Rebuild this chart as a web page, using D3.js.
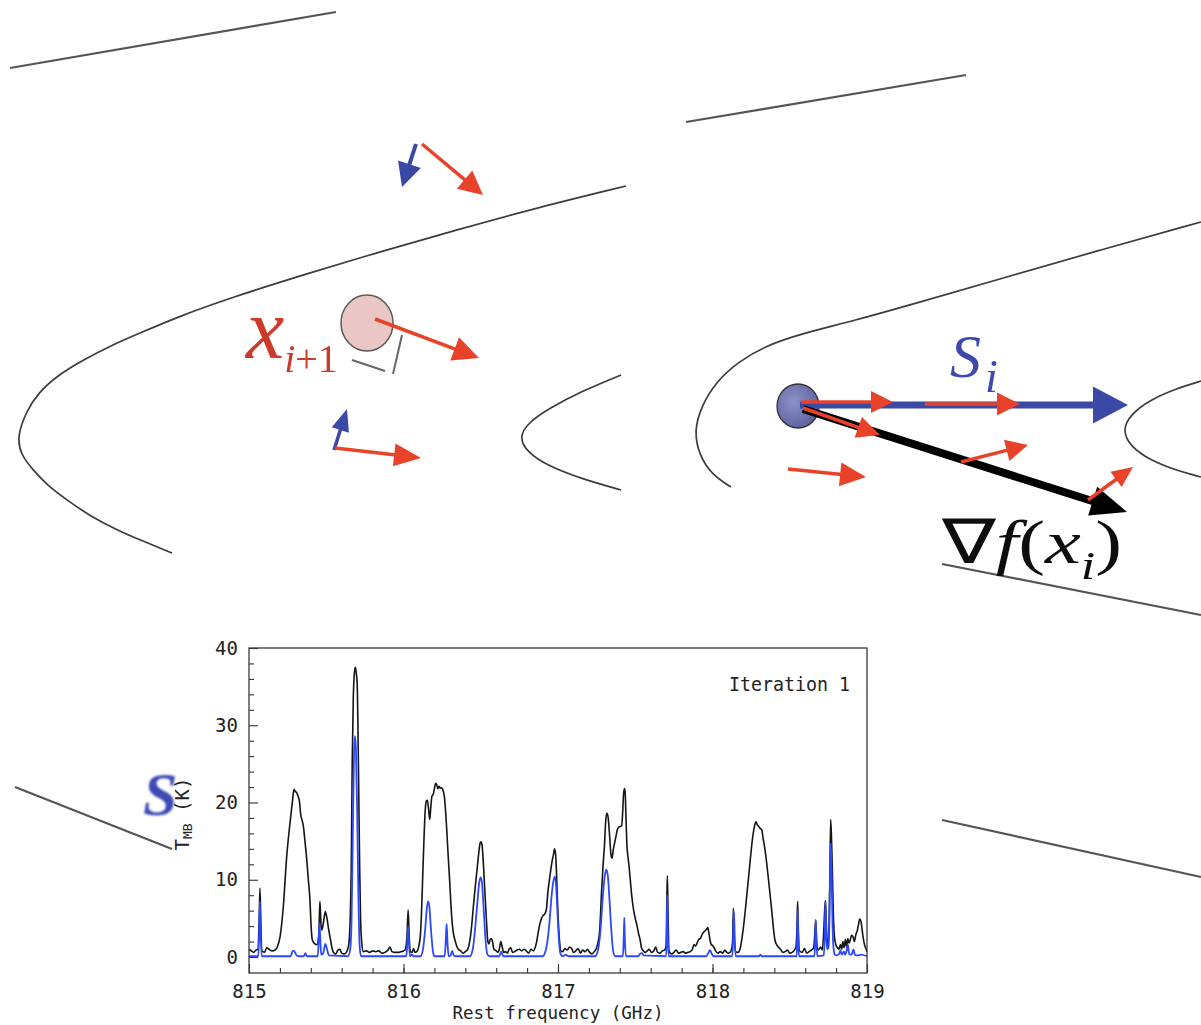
<!DOCTYPE html>
<html>
<head>
<meta charset="utf-8">
<script src="https://cdn.jsdelivr.net/npm/d3@7"></script>
<style>
  html, body { margin: 0; padding: 0; background: #fff; }
  svg { display: block; }
</style>
</head>
<body>
<svg id="fig" width="1201" height="1025"></svg>
<script>
// ---- spectrum data: observed (black) and model (blue), T_MB in K vs rest frequency in GHz ----
const blackFreq = [815.000,815.015,815.030,815.045,815.058,815.066,815.071,815.076,815.083,815.100,815.115,815.130,815.150,815.170,815.185,815.201,815.222,815.244,815.265,815.282,815.291,815.300,815.308,815.318,815.326,815.335,815.345,815.352,815.362,815.373,815.384,815.395,815.402,815.410,815.427,815.440,815.452,815.459,815.466,815.472,815.482,815.494,815.503,815.516,815.528,815.537,815.550,815.562,815.575,815.588,815.600,815.615,815.630,815.645,815.655,815.662,815.668,815.675,815.681,815.688,815.694,815.700,815.705,815.710,815.716,815.722,815.730,815.740,815.760,815.780,815.800,815.820,815.840,815.860,815.880,815.900,815.912,815.925,815.945,815.970,815.990,816.010,816.022,816.030,816.037,816.045,816.055,816.065,816.075,816.090,816.100,816.110,816.118,816.126,816.133,816.140,816.148,816.155,816.162,816.170,816.177,816.184,816.193,816.200,816.208,816.215,816.222,816.230,816.237,816.246,816.257,816.265,816.272,816.279,816.288,816.297,816.305,816.312,816.322,816.333,816.343,816.355,816.370,816.385,816.400,816.415,816.430,816.442,816.452,816.465,816.478,816.488,816.495,816.502,816.508,816.515,816.521,816.530,816.538,816.546,816.553,816.560,816.568,816.576,816.585,816.600,816.612,816.622,816.630,816.638,816.648,816.660,816.672,816.686,816.695,816.705,816.720,816.735,816.750,816.765,816.780,816.795,816.810,816.825,816.840,816.852,816.862,816.872,816.883,816.893,816.905,816.915,816.925,816.935,816.948,816.960,816.970,816.978,816.985,816.991,816.998,817.004,817.011,817.018,817.030,817.045,817.060,817.075,817.088,817.100,817.115,817.130,817.145,817.160,817.175,817.190,817.205,817.220,817.235,817.250,817.260,817.270,817.282,817.292,817.300,817.307,817.314,817.320,817.327,817.336,817.343,817.350,817.358,817.367,817.375,817.383,817.392,817.402,817.412,817.418,817.424,817.430,817.435,817.440,817.446,817.454,817.461,817.470,817.478,817.490,817.500,817.512,817.522,817.532,817.540,817.552,817.565,817.578,817.590,817.605,817.620,817.632,817.645,817.660,817.675,817.690,817.700,817.705,817.708,817.712,817.718,817.735,817.750,817.765,817.780,817.795,817.810,817.825,817.840,817.855,817.870,817.880,817.890,817.902,817.912,817.922,817.932,817.942,817.952,817.962,817.970,817.976,817.984,817.992,818.000,818.010,818.020,818.035,818.050,818.065,818.080,818.092,818.105,818.120,818.130,818.135,818.140,818.150,818.165,818.178,818.189,818.200,818.210,818.221,818.232,818.243,818.253,818.265,818.275,818.281,818.290,818.300,818.310,818.318,818.328,818.339,818.350,818.361,818.372,818.382,818.393,818.404,818.415,818.426,818.440,818.455,818.470,818.485,818.500,818.515,818.530,818.540,818.547,818.551,818.555,818.562,818.580,818.595,818.610,818.625,818.640,818.655,818.662,818.668,818.674,818.685,818.700,818.710,818.718,818.726,818.731,818.736,818.742,818.748,818.754,818.760,818.765,818.770,818.775,818.782,818.790,818.800,818.810,818.818,818.828,818.836,818.844,818.852,818.860,818.868,818.876,818.884,818.893,818.900,818.910,818.918,818.928,818.938,818.946,818.952,818.960,818.968,818.976,818.985,818.995,819.000];
const blackTmb = [1.0,0.8,0.6,0.9,1.0,5.0,8.9,5.0,0.8,0.6,1.2,1.0,0.8,0.9,1.4,2.6,6.5,13.0,17.3,20.3,21.7,21.4,21.3,20.8,20.2,18.4,17.6,16.9,15.0,12.8,10.0,7.2,4.0,2.2,1.7,1.6,3.0,7.2,4.2,3.5,4.5,5.9,5.2,3.5,2.2,1.2,0.5,0.4,0.9,1.0,0.5,0.4,0.6,1.5,5.0,12.0,25.0,33.5,36.5,37.5,36.8,35.5,30.0,22.0,12.0,5.0,1.8,0.7,0.8,0.6,0.8,0.7,0.8,0.5,0.6,0.9,1.3,0.7,0.6,0.6,0.7,0.9,2.5,6.1,2.5,0.7,0.6,1.1,0.6,0.8,1.5,3.0,6.5,11.5,15.5,18.8,20.2,20.3,19.2,17.8,19.5,20.8,21.1,21.8,22.5,22.3,21.8,22.1,21.9,21.9,21.5,20.7,19.0,16.8,13.5,10.5,7.5,5.2,3.2,2.2,1.5,1.0,0.8,0.5,0.7,1.0,2.2,4.2,6.5,9.2,11.7,13.6,14.7,14.9,14.5,12.8,10.6,7.2,4.3,2.0,1.7,2.2,2.4,2.0,1.0,0.8,0.6,1.2,2.0,1.4,0.6,0.7,0.5,1.1,1.2,0.6,0.7,0.9,1.0,0.8,1.0,0.8,0.5,1.0,0.8,1.2,2.0,3.2,4.3,5.0,5.4,5.6,6.2,8.5,10.5,12.2,13.2,14.0,13.2,10.5,6.5,3.8,1.8,0.8,0.7,1.1,0.9,1.3,1.1,0.6,0.8,1.1,0.5,0.9,0.7,1.0,0.6,0.4,0.7,1.2,2.0,3.5,8.5,12.0,14.2,17.0,18.6,18.5,17.6,15.1,13.2,12.8,13.9,14.8,15.6,16.4,16.8,16.9,17.0,18.5,21.0,21.8,21.2,18.0,14.5,12.8,11.5,9.5,7.8,6.0,5.0,4.0,3.0,2.2,1.2,0.8,0.6,0.8,1.0,0.6,0.8,1.3,0.6,0.5,0.8,0.9,1.5,8.0,10.5,6.0,0.8,0.4,0.6,0.9,0.5,0.6,0.7,0.5,0.6,0.7,1.0,1.6,1.4,1.9,2.3,2.4,2.9,3.2,3.4,3.6,3.8,3.2,2.2,1.6,1.5,1.2,0.8,0.5,0.7,0.5,0.9,0.6,0.5,0.8,2.0,6.3,2.5,0.7,0.6,1.0,2.2,3.8,5.6,7.8,10.0,12.3,14.3,16.2,17.2,17.5,17.1,16.9,16.6,16.5,15.3,14.0,12.3,10.3,8.2,6.3,4.0,2.2,1.6,1.3,1.0,0.6,0.7,0.9,0.5,0.6,0.9,1.3,4.0,7.2,4.0,0.8,0.6,1.1,0.5,0.7,0.9,1.2,3.0,4.8,2.0,0.9,1.3,0.9,2.5,6.0,7.3,4.5,2.0,1.3,3.5,11.0,17.8,15.5,12.0,5.7,2.5,1.5,1.2,1.0,1.6,1.0,2.0,1.2,2.3,1.3,2.4,1.8,2.3,2.8,2.6,2.0,2.9,3.5,4.3,4.9,4.7,3.6,2.4,1.5,1.0,0.7];

const blueFreq = [815.000,815.060,815.066,815.071,815.076,815.082,815.270,815.283,815.292,815.305,815.320,815.355,815.365,815.375,815.445,815.452,815.456,815.461,815.467,815.480,815.494,815.505,815.518,815.640,815.655,815.664,815.672,815.680,815.686,815.692,815.700,815.708,815.716,815.725,816.018,816.024,816.030,816.036,816.042,816.055,816.065,816.110,816.125,816.140,816.152,816.160,816.168,816.178,816.190,816.200,816.266,816.273,816.279,816.285,816.292,816.305,816.315,816.325,816.340,816.430,816.450,816.465,816.480,816.490,816.499,816.508,816.518,816.530,816.542,816.555,816.620,816.632,816.645,816.900,816.915,816.930,816.945,816.958,816.970,816.980,816.988,816.996,817.005,817.015,817.030,817.050,817.065,817.240,817.260,817.275,817.290,817.302,817.312,817.322,817.333,817.345,817.357,817.370,817.420,817.425,817.429,817.433,817.440,817.520,817.530,817.545,817.555,817.700,817.704,817.707,817.711,817.716,817.960,817.975,817.984,817.993,818.005,818.128,818.134,818.139,818.144,818.150,818.300,818.310,818.320,818.545,818.548,818.551,818.555,818.560,818.660,818.664,818.668,818.673,818.678,818.720,818.726,818.731,818.736,818.742,818.750,818.757,818.762,818.766,818.770,818.776,818.782,818.790,818.800,818.820,818.828,818.836,818.850,818.858,818.868,818.876,818.884,818.900,818.912,818.922,818.940,818.960,819.000];
const blueTmb = [0.1,0.1,3.0,7.2,3.0,0.1,0.1,0.8,0.8,0.3,0.1,0.1,0.5,0.1,0.1,2.5,4.4,2.5,0.3,0.5,1.7,1.0,0.2,0.1,1.0,5.0,16.0,26.5,28.6,27.0,19.0,8.0,1.5,0.1,0.1,1.5,4.0,1.5,0.1,0.3,0.1,0.1,0.9,3.5,6.5,7.2,6.4,3.5,0.8,0.1,0.1,1.8,4.3,1.8,0.1,0.2,0.8,0.2,0.1,0.1,1.2,4.0,7.5,9.6,10.3,9.6,6.5,2.5,0.4,0.1,0.1,0.7,0.1,0.1,0.5,1.8,4.5,7.8,9.8,10.4,9.2,6.0,2.5,0.5,0.1,0.3,0.1,0.1,1.0,3.5,7.8,10.4,11.3,10.6,7.5,3.5,0.8,0.1,0.1,2.2,5.1,2.2,0.1,0.1,0.4,0.5,0.2,0.1,3.0,8.0,3.0,0.1,0.1,0.6,0.9,0.5,0.1,0.1,2.5,5.9,2.5,0.1,0.1,0.3,0.1,0.1,2.0,6.1,2.0,0.1,0.1,2.0,4.8,2.0,0.1,0.2,2.5,7.2,3.0,1.0,1.2,5.0,12.0,14.7,12.0,5.0,1.5,0.4,0.2,0.4,0.9,0.3,0.7,0.3,0.8,1.6,0.4,0.3,1.0,0.3,0.2,0.3,0.1];

const xTickValues = [815, 816, 817, 818, 819];
const yTickValues = [0, 10, 20, 30, 40];
const xLabel = "Rest frequency (GHz)";
const panelLabel = "Iteration 1";

// ---- colours used by the sketch ----
const RED = "#e8432b", BLUE = "#3b48a6", INK = "#3c3c3c";

const svg = d3.select("#fig");
const defs = svg.append("defs");
defs.append("filter").attr("id", "soft").attr("x", "-5%").attr("y", "-5%").attr("width", "110%").attr("height", "110%")
  .append("feGaussianBlur").attr("stdDeviation", 0.55);
defs.append("filter").attr("id", "softer").attr("x", "-20%").attr("y", "-20%").attr("width", "140%").attr("height", "140%")
  .append("feGaussianBlur").attr("stdDeviation", 1.1);
const grad = defs.append("radialGradient").attr("id", "ballBlue").attr("cx", "40%").attr("cy", "40%").attr("r", "65%");
grad.append("stop").attr("offset", "0%").attr("stop-color", "#8d92c6");
grad.append("stop").attr("offset", "100%").attr("stop-color", "#5c619e");

// ===================== contour sketch =====================
const sketch = svg.append("g").attr("filter", "url(#soft)");
const smooth = d3.line().curve(d3.curveBasis);

const contourCurves = [
  [[626,186],[536,208],[460,229],[383,251],[306,274],[230,298],[180,316],[140,333],[110,346],[83,360],[58,375],[38,393],[26,412],[17,437],[21,455],[33,470],[48,486],[67,500],[90,516],[117,530],[145,542],[172,553]],
  [[621,375],[582,391],[548,409],[528,423],[519,437],[527,452],[548,466],[582,479],[621,490]],
  [[1201,222],[1100,250],[1000,279],[920,302],[853,321],[800,334],[765,346],[738,362],[716,382],[702,405],[694,430],[699,455],[712,475],[731,487]],
  [[1201,381],[1175,389],[1150,400],[1131,414],[1122,430],[1131,447],[1150,460],[1175,470],[1201,477]]
];
const contourLines = [
  [[10,68],[336,12]],
  [[686,122],[966,75]],
  [[942,564],[1201,615]],
  [[942,820],[1201,877]],
  [[15,787],[172,849]]
];
sketch.selectAll("path.curve").data(contourCurves).join("path")
  .attr("class", "curve").attr("d", smooth)
  .attr("fill", "none").attr("stroke", INK).attr("stroke-width", 1.7);
sketch.selectAll("path.straight").data(contourLines).join("path")
  .attr("class", "straight").attr("d", d3.line())
  .attr("fill", "none").attr("stroke", "#555").attr("stroke-width", 2.2);

// right-angle mark beside the new point
sketch.append("path").attr("d", "M352,360L385,371M393,374L402,335")
  .attr("fill", "none").attr("stroke", "#666").attr("stroke-width", 2);

// points
sketch.append("ellipse").attr("cx", 367).attr("cy", 323).attr("rx", 26).attr("ry", 28)
  .attr("fill", "#ebc6c6").attr("stroke", "#5a5a5a").attr("stroke-width", 1.5);
sketch.append("ellipse").attr("cx", 798).attr("cy", 406).attr("rx", 21).attr("ry", 22)
  .attr("fill", "url(#ballBlue)").attr("stroke", "#333").attr("stroke-width", 1.3);

function drawArrow(g, a) {
  const [x1, y1] = a.from, [x2, y2] = a.to;
  const dx = x2 - x1, dy = y2 - y1, L = Math.hypot(dx, dy);
  const ux = dx / L, uy = dy / L, px = -uy, py = ux;
  const bx = x2 - ux * a.head, by = y2 - uy * a.head;
  g.append("line")
    .attr("x1", x1).attr("y1", y1).attr("x2", bx + ux * 2).attr("y2", by + uy * 2)
    .attr("stroke", a.color).attr("stroke-width", a.w);
  g.append("path")
    .attr("d", `M${x2},${y2}L${bx + px * a.hw / 2},${by + py * a.hw / 2}L${bx - px * a.hw / 2},${by - py * a.hw / 2}Z`)
    .attr("fill", a.color);
}

const arrows = [
  // left panel
  { from: [416,144], to: [402,187], w: 4, head: 24, hw: 24, color: BLUE },
  { from: [422,144], to: [483,195], w: 3.5, head: 24, hw: 24, color: RED },
  { from: [375,319], to: [479,358], w: 3.5, head: 26, hw: 25, color: RED },
  { from: [334,450], to: [347,409], w: 3.5, head: 22, hw: 18, color: BLUE },
  { from: [335,448], to: [421,458], w: 3.5, head: 27, hw: 23, color: RED },
  // right panel
  { from: [800,405], to: [1128,405], w: 7, head: 35, hw: 37, color: BLUE },
  { from: [803,409], to: [1127,512], w: 8, head: 36, hw: 30, color: "#000" },
  { from: [801,402], to: [893,402], w: 3.5, head: 22, hw: 22, color: RED },
  { from: [925,404], to: [1020,404], w: 3.5, head: 23, hw: 23, color: RED },
  { from: [803,408], to: [880,435], w: 3.5, head: 23, hw: 22, color: RED },
  { from: [961,462], to: [1028,445], w: 3.5, head: 22, hw: 22, color: RED },
  { from: [788,469], to: [866,477], w: 3.5, head: 26, hw: 24, color: RED },
  { from: [1088,500], to: [1133,467], w: 3.5, head: 21, hw: 19, color: RED }
];
arrows.forEach(a => drawArrow(sketch, a));

// symbols
const serif = "'Liberation Serif', 'Times New Roman', Times, serif";
const xi1 = sketch.append("text").attr("x", 246).attr("y", 358)
  .style("font-family", serif).attr("fill", "#cc3a2c");
xi1.append("tspan").attr("font-style", "italic").attr("font-size", 86).text("x");
xi1.append("tspan").attr("font-size", 40).attr("dy", 14).attr("font-style", "italic").text("i");
xi1.append("tspan").attr("font-size", 40).text("+1");

const si = sketch.append("text").attr("x", 950).attr("y", 377)
  .style("font-family", serif).attr("fill", "#3c4aae");
si.append("tspan").attr("font-style", "italic").attr("font-size", 62).text("S");
si.append("tspan").attr("font-style", "italic").attr("font-size", 46).attr("dy", 15).attr("dx", 4).text("i");

const grad_f = sketch.append("text").attr("transform", "translate(942,563) scale(1.3,1)")
  .style("font-family", serif).attr("fill", "#111").attr("font-size", 62);
grad_f.append("tspan").text("∇");
grad_f.append("tspan").attr("font-style", "italic").text("f");
grad_f.append("tspan").text("(");
grad_f.append("tspan").attr("font-style", "italic").text("x");
grad_f.append("tspan").attr("font-style", "italic").attr("font-size", 40).attr("dy", 16).text("i");
grad_f.append("tspan").attr("dy", -16).text(")");

svg.append("text").attr("x", 143).attr("y", 815)
  .style("font-family", serif).attr("font-style", "italic").attr("font-weight", "bold")
  .attr("font-size", 62).attr("fill", "#3c4ab4").attr("filter", "url(#softer)")
  .text("S");

// ===================== spectrum panel =====================
const plot = { left: 249, right: 867, top: 648, bottom: 973 };
const x = d3.scaleLinear().domain([815, 819]).range([plot.left, plot.right]);
const y = d3.scaleLinear().domain([-2.07, 40]).range([plot.bottom, plot.top]);
const mono = "'DejaVu Sans Mono', 'Liberation Mono', monospace";

const chart = svg.append("g");

// minor ticks
chart.append("g").attr("transform", `translate(0,${plot.bottom})`)
  .call(d3.axisBottom(x).tickValues(d3.range(815.2, 819, 0.2)).tickSize(-5).tickFormat(""))
  .call(g => g.select(".domain").remove());
chart.append("g").attr("transform", `translate(${plot.left},0)`)
  .call(d3.axisLeft(y).tickValues(d3.range(2, 40, 2).filter(v => v % 10 !== 0)).tickSize(-5).tickFormat(""))
  .call(g => g.select(".domain").remove());

// major ticks with labels
const xAxis = chart.append("g").attr("transform", `translate(0,${plot.bottom})`)
  .call(d3.axisBottom(x).tickValues(xTickValues).tickSize(-9).tickPadding(12).tickFormat(d3.format("d")))
  .call(g => g.select(".domain").remove());
const yAxis = chart.append("g").attr("transform", `translate(${plot.left},0)`)
  .call(d3.axisLeft(y).tickValues(yTickValues).tickSize(-9).tickPadding(11).tickFormat(d3.format("d")))
  .call(g => g.select(".domain").remove());
[xAxis, yAxis].forEach(ax => {
  ax.selectAll("text").attr("font-family", mono).attr("font-size", 19).attr("fill", "#222");
});
chart.selectAll("g.tick line").attr("stroke", "#333").attr("stroke-width", 1.1);

// spectra
const lineGen = d3.line().x(d => x(d[0])).y(d => y(d[1])).curve(d3.curveMonotoneX);
chart.append("path").datum(d3.zip(blackFreq, blackTmb))
  .attr("d", lineGen).attr("fill", "none").attr("stroke", "#151515").attr("stroke-width", 1.6)
  .attr("stroke-linejoin", "round");
chart.append("path").datum(d3.zip(blueFreq, blueTmb))
  .attr("d", lineGen).attr("fill", "none").attr("stroke", "#2b48ff").attr("stroke-width", 1.8)
  .attr("stroke-linejoin", "round");

// frame
chart.append("rect").attr("x", plot.left).attr("y", plot.top)
  .attr("width", plot.right - plot.left).attr("height", plot.bottom - plot.top)
  .attr("fill", "none").attr("stroke", "#3a3a3a").attr("stroke-width", 1.3);

// labels
chart.append("text").attr("x", (plot.left + plot.right) / 2).attr("y", 1019)
  .attr("text-anchor", "middle").attr("font-family", mono).attr("font-size", 18)
  .attr("fill", "#222").attr("textLength", 211).attr("lengthAdjust", "spacingAndGlyphs")
  .text(xLabel);
chart.append("text").attr("x", 850).attr("y", 691)
  .attr("text-anchor", "end").attr("font-family", mono).attr("font-size", 19)
  .attr("fill", "#222").attr("textLength", 121).attr("lengthAdjust", "spacingAndGlyphs")
  .text(panelLabel);
const yl = chart.append("text").attr("transform", "translate(189,814) rotate(-90)")
  .attr("text-anchor", "middle").attr("font-family", mono).attr("font-size", 19).attr("fill", "#222");
yl.append("tspan").text("T");
yl.append("tspan").attr("font-size", 13).attr("dy", 3).text("MB");
yl.append("tspan").attr("dy", -3).text(" (K)");
</script>
</body>
</html>
